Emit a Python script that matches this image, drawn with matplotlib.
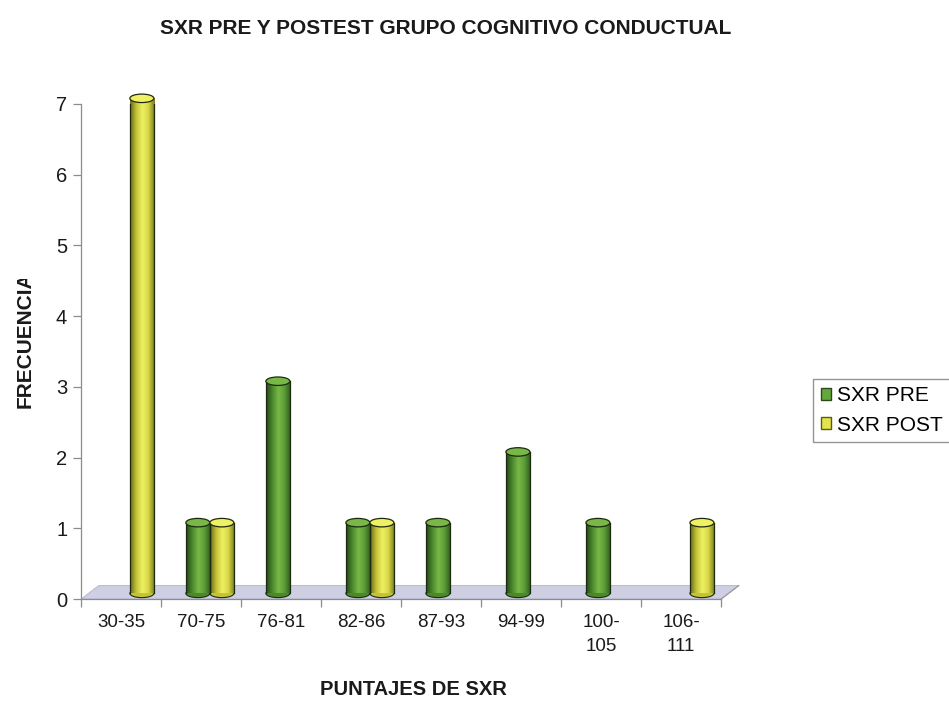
import matplotlib
matplotlib.use("Agg")
import matplotlib.pyplot as plt
import numpy as np
from matplotlib.colors import LinearSegmentedColormap
from matplotlib.patches import Ellipse, Patch, Polygon
from matplotlib.transforms import Bbox

plt.rcParams["font.family"] = ["Liberation Sans", "DejaVu Sans"]

categories = ["30-35", "70-75", "76-81", "82-86", "87-93", "94-99", "100-\n105", "106-\n111"]
pre_values = [0, 1, 3, 1, 1, 2, 1, 0]
post_values = [7, 1, 0, 1, 0, 0, 0, 1]
series_names = ["SXR PRE", "SXR POST"]
y_ticks = [0, 1, 2, 3, 4, 5, 6, 7]

title = "SXR PRE Y POSTEST GRUPO COGNITIVO CONDUCTUAL"
x_title = "PUNTAJES DE SXR"
y_title = "FRECUENCIA"

# body colours (dark edge -> light -> dark edge) and flat legend colours
green_shades = ["#24481a", "#4a882c", "#78b846", "#5a9c36", "#2c581e"]
yellow_shades = ["#6a681a", "#c4c438", "#f0f064", "#d6d644", "#787620"]
green_flat = "#62a83c"
yellow_flat = "#e4e44c"

bar_w = 0.3
depth_x = 0.11      # sideways shift of the cylinders from the 3D depth
lift = 0.08         # floor sits slightly above the zero line
cap_h = 0.12        # height of the elliptical caps in data units

fig = plt.figure(figsize=(9.49, 7.04), dpi=100)
ax = fig.add_axes([0.0854, 0.1491, 0.6745, 0.7032])

x = np.arange(len(categories))

# floor of the 3D plot
floor = Polygon([(-0.5, 0), (7.5, 0), (7.5 + 0.22, 0.19), (-0.5 + 0.22, 0.19)],
                closed=True, facecolor="#cfcfe4", edgecolor="#b4b4c8", lw=0.6,
                zorder=1, clip_on=False)
ax.add_patch(floor)
ax.plot([7.5, 7.5 + 0.22], [0, 0.19], color="#9a9a9a", lw=0.9, clip_on=False, zorder=1)


def draw_cylinders(xpos, values, shades, cap_color):
    cmap = LinearSegmentedColormap.from_list("cyl", shades)
    grad = np.linspace(0, 1, 64).reshape(1, -1)
    bars = ax.bar(xpos, values, width=bar_w, bottom=lift, color=cap_color,
                  edgecolor="none", zorder=3)
    for rect, v in zip(bars, values):
        if v <= 0:
            continue
        x0 = rect.get_x()
        y0 = rect.get_y()
        h = rect.get_height()
        cx = x0 + bar_w / 2
        # rounded bottom
        bottom = Ellipse((cx, y0), bar_w, cap_h, facecolor=shades[1],
                         edgecolor="#1e2a10", lw=0.8, zorder=2.9)
        ax.add_patch(bottom)
        im = ax.imshow(grad, cmap=cmap, aspect="auto", extent=(x0, x0 + bar_w, y0, y0 + h),
                       zorder=3.1, interpolation="bicubic")
        im.set_clip_path(rect)
        ax.plot([x0, x0], [y0, y0 + h], color="#1e2a10", lw=0.9, zorder=3.2)
        ax.plot([x0 + bar_w, x0 + bar_w], [y0, y0 + h], color="#1e2a10", lw=0.9, zorder=3.2)
        top = Ellipse((cx, y0 + h), bar_w, cap_h, facecolor=shades[2],
                      edgecolor="#1e2a10", lw=0.9, zorder=3.3, clip_on=False)
        ax.add_patch(top)


draw_cylinders(x - bar_w / 2 + depth_x, pre_values, green_shades, green_flat)
draw_cylinders(x + bar_w / 2 + depth_x, post_values, yellow_shades, yellow_flat)

ax.set_xlim(-0.5, len(categories) - 0.5)
ax.set_ylim(0, 7)

# axes styling
for side in ["top", "right"]:
    ax.spines[side].set_visible(False)
for side in ["left", "bottom"]:
    ax.spines[side].set_color("#8c8c8c")
    ax.spines[side].set_linewidth(0.9)

ax.set_yticks(y_ticks)
ax.set_yticklabels([str(t) for t in y_ticks], fontsize=14.5, color="#1a1a1a")
ax.tick_params(axis="y", direction="out", length=6, width=0.9, color="#8c8c8c", pad=4)

ax.set_xticks(np.arange(-0.5, len(categories), 1.0))
ax.set_xticklabels([])
ax.set_xticks(x, minor=True)
ax.set_xticklabels(categories, minor=True, fontsize=13.5, color="#1a1a1a",
                   linespacing=1.55, va="top")
ax.tick_params(axis="x", which="major", direction="out", length=6, width=0.9, color="#8c8c8c")
ax.tick_params(axis="x", which="minor", length=0, pad=11)

fig.text(0.470, 0.960, title, ha="center", va="center", fontsize=15,
         fontweight="bold", color="#1a1a1a")
fig.text(0.436, 0.020, x_title, ha="center", va="center", fontsize=14.5,
         fontweight="bold", color="#1a1a1a")
ylab = fig.text(0.026, 0.518, y_title, ha="center", va="center", rotation=90,
                fontsize=15, fontweight="bold", color="#1a1a1a")
# the top of the label is cut off by the plot frame
ylab.set_clip_box(Bbox.from_extents(0, 0, 949, 704 - 279))
ylab.set_clip_on(True)

handles = [Patch(facecolor=green_flat, edgecolor="#2a4a1a", lw=1.0),
           Patch(facecolor=yellow_flat, edgecolor="#5a5a18", lw=1.0)]
leg = fig.legend(handles, series_names, loc="lower left", bbox_to_anchor=(0.857, 0.372),
                 fontsize=15, frameon=True, fancybox=False, handlelength=0.5,
                 handleheight=0.5, handletextpad=0.3, borderpad=0.35, labelspacing=0.5,
                 borderaxespad=0)
leg.get_frame().set_edgecolor("#7a7a7a")
leg.get_frame().set_linewidth(1.0)

fig.savefig("out.png", dpi=100)
